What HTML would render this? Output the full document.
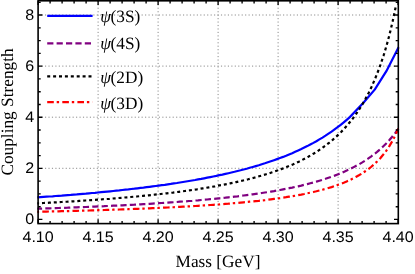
<!DOCTYPE html>
<html><head><meta charset="utf-8"><title>plot</title>
<style>html,body{margin:0;padding:0;background:#fff}svg{display:block;will-change:transform}text{text-rendering:geometricPrecision}</style></head>
<body>
<svg width="415" height="274" viewBox="0 0 415 274">
<rect width="415" height="274" fill="#fff"/>
<path d="M98.1,0.8 V223.6 M158.1,0.8 V223.6 M218.1,0.8 V223.6 M278.1,0.8 V223.6 M338.1,0.8 V223.6 M38.1,168.3 H398.3 M38.1,117.2 H398.3 M38.1,66.1 H398.3 M38.1,15.0 H398.3" stroke="#8a8a8a" stroke-width="1" stroke-dasharray="1.15 2.3" fill="none"/>
<g transform="translate(0,0.4)">
<path d="M37.4,196.9 L40.4,196.7 L43.5,196.5 L46.5,196.3 L49.5,196.1 L52.6,195.9 L55.6,195.6 L58.6,195.4 L61.7,195.2 L64.7,194.9 L67.7,194.7 L70.8,194.5 L73.8,194.2 L76.8,194.0 L79.9,193.7 L82.9,193.4 L85.9,193.2 L89.0,192.9 L92.0,192.6 L95.0,192.4 L98.1,192.1 L101.1,191.8 L104.1,191.5 L107.2,191.2 L110.2,190.9 L113.2,190.6 L116.3,190.3 L119.3,190.0 L122.3,189.6 L125.4,189.3 L128.4,189.0 L131.4,188.6 L134.4,188.3 L137.5,187.9 L140.5,187.5 L143.5,187.2 L146.6,186.8 L149.6,186.4 L152.6,186.0 L155.7,185.6 L158.7,185.2 L161.7,184.8 L164.8,184.4 L167.8,183.9 L170.8,183.5 L173.9,183.0 L176.9,182.6 L179.9,182.1 L183.0,181.6 L186.0,181.1 L189.0,180.6 L192.1,180.1 L195.1,179.6 L198.1,179.0 L201.2,178.5 L204.2,177.9 L207.2,177.3 L210.3,176.7 L213.3,176.1 L216.3,175.5 L219.4,174.8 L222.4,174.2 L225.4,173.5 L228.5,172.8 L231.5,172.1 L234.5,171.4 L237.6,170.6 L240.6,169.9 L243.6,169.1 L246.7,168.3 L249.7,167.4 L252.7,166.6 L255.8,165.7 L258.8,164.8 L261.8,163.8 L264.9,162.9 L267.9,161.9 L270.9,160.9 L274.0,159.8 L277.0,158.7 L280.0,157.6 L283.1,156.5 L286.1,155.3 L289.1,154.0 L292.2,152.8 L295.2,151.4 L298.2,150.1 L301.3,148.7 L304.3,147.2 L307.3,145.7 L310.3,144.1 L313.4,142.5 L316.4,140.8 L319.4,139.0 L322.5,137.2 L325.5,135.3 L328.5,133.3 L331.6,131.2 L334.6,129.0 L337.6,126.8 L340.7,124.4 L343.7,122.0 L346.7,119.4 L349.8,116.7 L363.2,102.6 L374.9,89.0 L386.5,70.5 L398.6,46.8" stroke="#0000ff" stroke-width="2.2" fill="none"/>
<path d="M37.4,208.3 L40.4,208.2 L43.5,208.1 L46.5,208.0 L49.5,207.9 L52.6,207.8 L55.6,207.7 L58.6,207.6 L61.7,207.5 L64.7,207.4 L67.7,207.3 L70.8,207.1 L73.8,207.0 L76.8,206.9 L79.9,206.8 L82.9,206.7 L85.9,206.6 L89.0,206.4 L92.0,206.3 L95.0,206.2 L98.1,206.0 L101.1,205.9 L104.1,205.8 L107.2,205.6 L110.2,205.5 L113.2,205.3 L116.3,205.2 L119.3,205.0 L122.3,204.9 L125.4,204.7 L128.4,204.6 L131.4,204.4 L134.4,204.3 L137.5,204.1 L140.5,203.9 L143.5,203.7 L146.6,203.6 L149.6,203.4 L152.6,203.2 L155.7,203.0 L158.7,202.8 L161.7,202.6 L164.8,202.4 L167.8,202.2 L170.8,202.0 L173.9,201.8 L176.9,201.6 L179.9,201.3 L183.0,201.1 L186.0,200.9 L189.0,200.6 L192.1,200.4 L195.1,200.1 L198.1,199.9 L201.2,199.6 L204.2,199.3 L207.2,199.1 L210.3,198.8 L213.3,198.5 L216.3,198.2 L219.4,197.9 L222.4,197.6 L225.4,197.3 L228.5,196.9 L231.5,196.6 L234.5,196.2 L237.6,195.9 L240.6,195.5 L243.6,195.1 L246.7,194.7 L249.7,194.3 L252.7,193.9 L255.8,193.5 L258.8,193.1 L261.8,192.6 L264.9,192.1 L267.9,191.7 L270.9,191.2 L274.0,190.7 L277.0,190.1 L280.0,189.6 L283.1,189.0 L286.1,188.4 L289.1,187.8 L292.2,187.2 L295.2,186.5 L298.2,185.9 L301.3,185.2 L304.3,184.4 L307.3,183.7 L310.3,182.9 L313.4,182.1 L316.4,181.2 L319.4,180.3 L322.5,179.4 L325.5,178.4 L328.5,177.4 L331.6,176.3 L334.6,175.2 L337.6,174.0 L340.7,172.8 L343.7,171.5 L346.7,170.2 L349.8,168.7 L352.8,167.2 L355.8,165.6 L358.9,164.0 L361.9,162.2 L364.9,160.3 L368.0,158.3 L371.0,156.2 L374.0,153.9 L377.1,151.5 L380.1,148.9 L383.1,146.1 L386.2,143.1 L389.2,139.9 L392.2,136.4 L395.3,132.6 L398.3,128.5" stroke="#800080" stroke-width="2.2" stroke-dasharray="6.2 3.2" stroke-dashoffset="1.5" fill="none"/>
<path d="M37.4,202.9 L40.4,202.8 L43.4,202.6 L46.4,202.5 L49.4,202.3 L52.5,202.1 L55.5,202.0 L58.5,201.8 L61.5,201.6 L64.5,201.4 L67.5,201.3 L70.5,201.1 L73.5,200.9 L76.5,200.7 L79.5,200.5 L82.6,200.3 L85.6,200.1 L88.6,199.9 L91.6,199.7 L94.6,199.5 L97.6,199.3 L100.6,199.1 L103.6,198.8 L106.6,198.6 L109.6,198.4 L112.7,198.1 L115.7,197.9 L118.7,197.6 L121.7,197.4 L124.7,197.1 L127.7,196.9 L130.7,196.6 L133.7,196.3 L136.7,196.1 L139.7,195.8 L142.8,195.5 L145.8,195.2 L148.8,194.9 L151.8,194.6 L154.8,194.2 L157.8,193.9 L160.8,193.6 L163.8,193.2 L166.8,192.9 L169.8,192.5 L172.9,192.2 L175.9,191.8 L178.9,191.4 L181.9,191.0 L184.9,190.6 L187.9,190.2 L190.9,189.8 L193.9,189.3 L196.9,188.9 L199.9,188.4 L203.0,187.9 L206.0,187.4 L209.0,186.9 L212.0,186.4 L215.0,185.9 L218.0,185.3 L221.0,184.8 L224.0,184.2 L227.0,183.6 L230.0,183.0 L233.1,182.4 L236.1,181.7 L239.1,181.0 L242.1,180.3 L245.1,179.6 L248.1,178.9 L251.1,178.1 L254.1,177.3 L257.1,176.5 L260.1,175.6 L263.2,174.7 L266.2,173.8 L269.2,172.9 L272.2,171.9 L275.2,170.9 L278.2,169.8 L281.2,168.7 L284.2,167.5 L287.2,166.3 L290.2,165.1 L293.3,163.8 L296.3,162.4 L299.3,161.0 L302.3,159.5 L305.3,157.9 L308.3,156.3 L311.3,154.6 L314.3,152.8 L317.3,150.9 L320.3,148.9 L323.4,146.7 L326.4,144.5 L329.4,142.2 L332.4,139.7 L335.4,137.0 L338.4,134.2 L341.4,131.3 L344.4,128.1 L347.4,124.7 L350.4,121.1 L353.5,117.2 L356.5,113.0 L359.5,108.5 L362.5,103.7 L365.5,98.4 L368.5,92.8 L371.5,86.6 L374.5,79.8 L377.5,72.4 L380.5,64.2 L383.6,55.1 L386.6,45.1 L389.6,33.9 L392.6,21.2 L395.6,7.0" stroke="#000" stroke-width="2.2" stroke-dasharray="3 2.9" stroke-dashoffset="1.3" fill="none"/>
<path d="M37.4,211.4 L40.4,211.3 L43.5,211.3 L46.5,211.2 L49.5,211.1 L52.6,211.0 L55.6,211.0 L58.6,210.9 L61.7,210.8 L64.7,210.7 L67.7,210.7 L70.8,210.6 L73.8,210.5 L76.8,210.4 L79.9,210.3 L82.9,210.3 L85.9,210.2 L89.0,210.1 L92.0,210.0 L95.0,209.9 L98.1,209.8 L101.1,209.7 L104.1,209.6 L107.2,209.5 L110.2,209.4 L113.2,209.3 L116.3,209.2 L119.3,209.1 L122.3,209.0 L125.4,208.9 L128.4,208.8 L131.4,208.7 L134.4,208.5 L137.5,208.4 L140.5,208.3 L143.5,208.2 L146.6,208.0 L149.6,207.9 L152.6,207.8 L155.7,207.7 L158.7,207.5 L161.7,207.4 L164.8,207.2 L167.8,207.1 L170.8,206.9 L173.9,206.8 L176.9,206.6 L179.9,206.5 L183.0,206.3 L186.0,206.1 L189.0,206.0 L192.1,205.8 L195.1,205.6 L198.1,205.4 L201.2,205.2 L204.2,205.0 L207.2,204.8 L210.3,204.6 L213.3,204.4 L216.3,204.2 L219.4,204.0 L222.4,203.7 L225.4,203.5 L228.5,203.3 L231.5,203.0 L234.5,202.7 L237.6,202.5 L240.6,202.2 L243.6,201.9 L246.7,201.6 L249.7,201.3 L252.7,201.0 L255.8,200.7 L258.8,200.4 L261.8,200.0 L264.9,199.7 L267.9,199.3 L270.9,198.9 L274.0,198.5 L277.0,198.1 L280.0,197.7 L283.1,197.2 L286.1,196.8 L289.1,196.3 L292.2,195.8 L295.2,195.3 L298.2,194.7 L301.3,194.2 L304.3,193.6 L307.3,192.9 L310.3,192.3 L313.4,191.6 L316.4,190.9 L319.4,190.1 L322.5,189.3 L325.5,188.5 L328.5,187.6 L331.6,186.7 L334.6,185.7 L337.6,184.6 L340.7,183.5 L343.7,182.3 L346.7,181.0 L349.8,179.7 L352.8,178.2 L355.8,176.6 L358.9,174.9 L361.9,173.1 L364.9,171.1 L368.0,169.0 L371.0,166.6 L374.0,164.0 L377.1,161.1 L380.1,158.0 L383.1,154.4 L386.2,150.5 L389.2,146.0 L392.2,140.9 L395.3,135.1 L398.3,128.3" stroke="#ff0000" stroke-width="2.2" stroke-dasharray="6.6 2.9 2.4 3.2" stroke-dashoffset="10.2" fill="none"/>
</g>
<path d="M47.2,15.9 H92.6" stroke="#0000ff" stroke-width="2.2"/>
<path d="M47.2,43.4 H92.6" stroke="#800080" stroke-width="2.2" stroke-dasharray="6.2 3.2"/>
<path d="M47.2,76.4 H92.6" stroke="#000" stroke-width="2.2" stroke-dasharray="3 2.9"/>
<path d="M47.2,102.1 H92.6" stroke="#ff0000" stroke-width="2.2" stroke-dasharray="6.6 2.9 2.4 3.2"/>
<text x="100.3" y="22.3" font-family="'Liberation Serif', serif" font-size="17.3" font-style="italic" fill="#000">ψ</text>
<text x="110.6" y="22.3" font-family="'Liberation Serif', serif" font-size="17.3" fill="#000">(3S)</text>
<text x="100.3" y="49.0" font-family="'Liberation Serif', serif" font-size="17.3" font-style="italic" fill="#000">ψ</text>
<text x="110.6" y="49.0" font-family="'Liberation Serif', serif" font-size="17.3" fill="#000">(4S)</text>
<text x="100.3" y="82.5" font-family="'Liberation Serif', serif" font-size="17.3" font-style="italic" fill="#000">ψ</text>
<text x="110.6" y="82.5" font-family="'Liberation Serif', serif" font-size="17.3" fill="#000">(2D)</text>
<text x="100.3" y="108.7" font-family="'Liberation Serif', serif" font-size="17.3" font-style="italic" fill="#000">ψ</text>
<text x="110.6" y="108.7" font-family="'Liberation Serif', serif" font-size="17.3" fill="#000">(3D)</text>
<path d="M38.1,223.6 v-4.3 M38.1,0.8 v4.3 M50.1,223.6 v-2.6 M50.1,0.8 v2.6 M62.1,223.6 v-2.6 M62.1,0.8 v2.6 M74.1,223.6 v-2.6 M74.1,0.8 v2.6 M86.1,223.6 v-2.6 M86.1,0.8 v2.6 M98.1,223.6 v-4.3 M98.1,0.8 v4.3 M110.1,223.6 v-2.6 M110.1,0.8 v2.6 M122.1,223.6 v-2.6 M122.1,0.8 v2.6 M134.1,223.6 v-2.6 M134.1,0.8 v2.6 M146.1,223.6 v-2.6 M146.1,0.8 v2.6 M158.1,223.6 v-4.3 M158.1,0.8 v4.3 M170.1,223.6 v-2.6 M170.1,0.8 v2.6 M182.1,223.6 v-2.6 M182.1,0.8 v2.6 M194.1,223.6 v-2.6 M194.1,0.8 v2.6 M206.1,223.6 v-2.6 M206.1,0.8 v2.6 M218.1,223.6 v-4.3 M218.1,0.8 v4.3 M230.1,223.6 v-2.6 M230.1,0.8 v2.6 M242.1,223.6 v-2.6 M242.1,0.8 v2.6 M254.1,223.6 v-2.6 M254.1,0.8 v2.6 M266.1,223.6 v-2.6 M266.1,0.8 v2.6 M278.1,223.6 v-4.3 M278.1,0.8 v4.3 M290.1,223.6 v-2.6 M290.1,0.8 v2.6 M302.1,223.6 v-2.6 M302.1,0.8 v2.6 M314.1,223.6 v-2.6 M314.1,0.8 v2.6 M326.1,223.6 v-2.6 M326.1,0.8 v2.6 M338.1,223.6 v-4.3 M338.1,0.8 v4.3 M350.1,223.6 v-2.6 M350.1,0.8 v2.6 M362.1,223.6 v-2.6 M362.1,0.8 v2.6 M374.1,223.6 v-2.6 M374.1,0.8 v2.6 M386.1,223.6 v-2.6 M386.1,0.8 v2.6 M398.1,223.6 v-4.3 M398.1,0.8 v4.3 M38.1,219.4 h4.3 M398.3,219.4 h-4.3 M38.1,206.7 h2.6 M398.3,206.7 h-2.6 M38.1,193.9 h2.6 M398.3,193.9 h-2.6 M38.1,181.1 h2.6 M398.3,181.1 h-2.6 M38.1,168.3 h4.3 M398.3,168.3 h-4.3 M38.1,155.6 h2.6 M398.3,155.6 h-2.6 M38.1,142.8 h2.6 M398.3,142.8 h-2.6 M38.1,130.0 h2.6 M398.3,130.0 h-2.6 M38.1,117.2 h4.3 M398.3,117.2 h-4.3 M38.1,104.5 h2.6 M398.3,104.5 h-2.6 M38.1,91.7 h2.6 M398.3,91.7 h-2.6 M38.1,78.9 h2.6 M398.3,78.9 h-2.6 M38.1,66.1 h4.3 M398.3,66.1 h-4.3 M38.1,53.4 h2.6 M398.3,53.4 h-2.6 M38.1,40.6 h2.6 M398.3,40.6 h-2.6 M38.1,27.8 h2.6 M398.3,27.8 h-2.6 M38.1,15.0 h4.3 M398.3,15.0 h-4.3 M38.1,2.3 h2.6 M398.3,2.3 h-2.6" stroke="#000" stroke-width="1.35" fill="none"/>
<rect x="38.1" y="0.8" width="360.2" height="222.79999999999998" fill="none" stroke="#000" stroke-width="1.6"/>
<text transform="translate(38.1,242.4) scale(1.05,1)" text-anchor="middle" font-family="'Liberation Sans', sans-serif" font-size="15.3" fill="#000">4.10</text>
<text transform="translate(98.1,242.4) scale(1.05,1)" text-anchor="middle" font-family="'Liberation Sans', sans-serif" font-size="15.3" fill="#000">4.15</text>
<text transform="translate(158.1,242.4) scale(1.05,1)" text-anchor="middle" font-family="'Liberation Sans', sans-serif" font-size="15.3" fill="#000">4.20</text>
<text transform="translate(218.1,242.4) scale(1.05,1)" text-anchor="middle" font-family="'Liberation Sans', sans-serif" font-size="15.3" fill="#000">4.25</text>
<text transform="translate(278.1,242.4) scale(1.05,1)" text-anchor="middle" font-family="'Liberation Sans', sans-serif" font-size="15.3" fill="#000">4.30</text>
<text transform="translate(338.1,242.4) scale(1.05,1)" text-anchor="middle" font-family="'Liberation Sans', sans-serif" font-size="15.3" fill="#000">4.35</text>
<text transform="translate(398.1,242.4) scale(1.05,1)" text-anchor="middle" font-family="'Liberation Sans', sans-serif" font-size="15.3" fill="#000">4.40</text>
<text transform="translate(34.2,224.2) scale(1.05,1)" text-anchor="end" font-family="'Liberation Sans', sans-serif" font-size="15.3" fill="#000">0</text>
<text transform="translate(34.2,173.1) scale(1.05,1)" text-anchor="end" font-family="'Liberation Sans', sans-serif" font-size="15.3" fill="#000">2</text>
<text transform="translate(34.2,122.0) scale(1.05,1)" text-anchor="end" font-family="'Liberation Sans', sans-serif" font-size="15.3" fill="#000">4</text>
<text transform="translate(34.2,70.9) scale(1.05,1)" text-anchor="end" font-family="'Liberation Sans', sans-serif" font-size="15.3" fill="#000">6</text>
<text transform="translate(34.2,19.8) scale(1.05,1)" text-anchor="end" font-family="'Liberation Sans', sans-serif" font-size="15.3" fill="#000">8</text>
<text x="218.0" y="266.8" text-anchor="middle" font-family="'Liberation Serif', serif" font-size="17.3" fill="#000">Mass [GeV]</text>
<text transform="translate(13.4,112.0) rotate(-90)" text-anchor="middle" font-family="'Liberation Serif', serif" font-size="17.3" fill="#000">Coupling Strength</text>
</svg>
</body></html>
